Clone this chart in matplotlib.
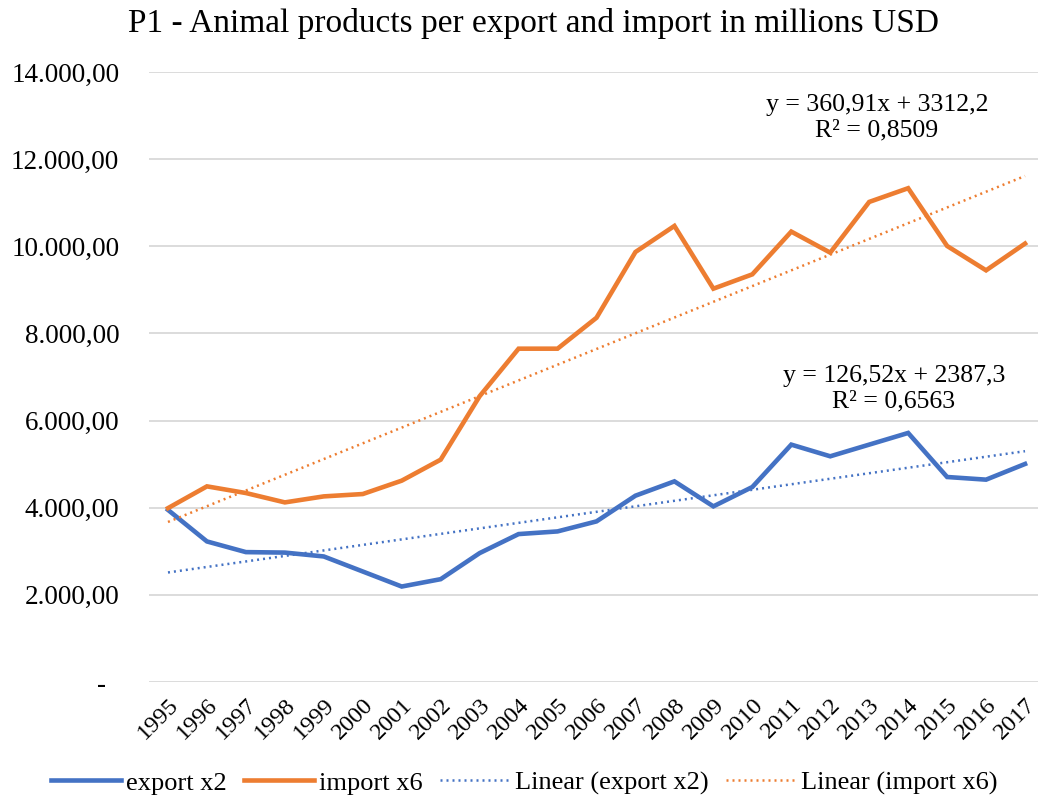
import numpy as np
import matplotlib
matplotlib.use("Agg")
import matplotlib.pyplot as plt
from matplotlib.ticker import FuncFormatter

plt.rcParams['font.family'] = ['Liberation Serif', 'DejaVu Serif']

# Data: yearly values in millions USD
years = [str(y) for y in range(1995, 2018)]
export_x2 = [3950, 3226, 2981, 2970, 2881, 2536, 2191, 2360, 2958, 3395, 3456, 3686,
             4276, 4605, 4031, 4475, 5448, 5180, 5448, 5716, 4705, 4644, 5004]
import_x6 = [3990, 4490, 4337, 4122, 4260, 4314, 4621, 5103, 6559, 7650, 7650, 8360,
             9869, 10467, 9027, 9356, 10337, 9854, 11018, 11333, 10007, 9448, 10062]

# Linear trendline coefficients (x = 1..n)
export_slope, export_icpt, export_r2 = 126.52, 2387.3, 0.6563
import_slope, import_icpt, import_r2 = 360.91, 3312.2, 0.8509

blue = "#4472C4"
orange = "#ED7D31"

fig = plt.figure(figsize=(10.38, 7.99), dpi=100)
ax = fig.add_axes([148.5 / 1038, 117 / 799, 896 / 1038, 610 / 799])

x = np.arange(len(years))
xn = x + 1

ax.plot(x, export_x2, color=blue, lw=3.3, solid_joinstyle="miter", label="export x2")
ax.plot(x, import_x6, color=orange, lw=3.3, solid_joinstyle="miter", label="import x6")
ax.plot(x, export_slope * xn + export_icpt, color=blue, lw=1.8, ls=(0, (0.8, 1.6)),
        label="Linear (export x2)")
ax.plot(x, import_slope * xn + import_icpt, color=orange, lw=1.8, ls=(0, (0.8, 1.6)),
        label="Linear (import x6)")

ax.set_xlim(-0.5, len(years) - 0.5)
ax.set_ylim(0, 14000)
ax.set_yticks(np.arange(0, 14001, 2000))


def fmt(v, pos):
    # accounting style: thousands with dots, decimals with comma, zero as a dash
    if v == 0:
        return "-  "
    s = f"{v:,.2f}"
    return s.replace(",", "X").replace(".", ",").replace("X", ".")


ax.yaxis.set_major_formatter(FuncFormatter(fmt))
ax.set_xticks(x)
ax.set_xticklabels(years, rotation=45, ha="right", rotation_mode="anchor")
ax.tick_params(axis="y", length=0, labelsize=19.5, pad=21, colors="#000000")
ax.tick_params(axis="x", length=0, labelsize=17.5, pad=9, colors="#000000")
ax.grid(axis="y", color="#D9D9D9", lw=1.3)
ax.set_axisbelow(True)
for sp in ax.spines.values():
    sp.set_visible(False)

# Trendline equations
ax.text(0.813, 0.925, "y = 360,91x + 3312,2\nR² = 0,8509", transform=ax.transAxes,
        ha="center", va="center", fontsize=18.5, linespacing=1.2)
ax.text(0.832, 0.481, "y = 126,52x + 2387,3\nR² = 0,6563", transform=ax.transAxes,
        ha="center", va="center", fontsize=18.5, linespacing=1.2)

fig.text(0.514, 0.97, "P1 - Animal products per export and import in millions USD",
         ha="center", va="center", fontsize=24)

fig.legend(loc="center", bbox_to_anchor=(0.505, 0.02), ncol=4, frameon=False,
           fontsize=19, handlelength=2.65, handletextpad=0.2, columnspacing=0.65)

fig.savefig("out.png", dpi=100)
